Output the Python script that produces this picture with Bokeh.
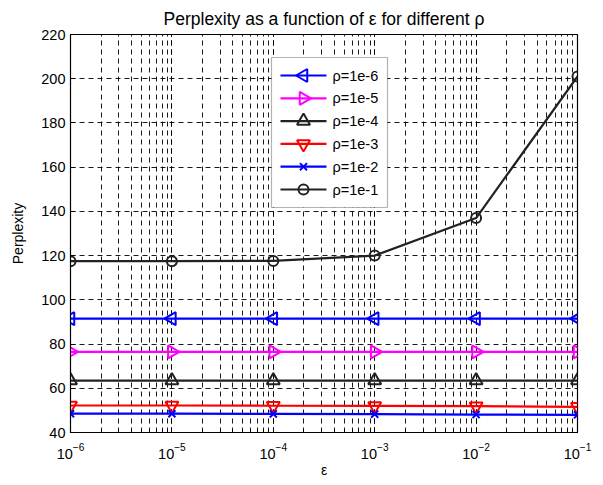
from bokeh.plotting import figure
from bokeh.models import Range1d, LogTicker, SingleIntervalTicker, BoxAnnotation, LinearScale
from bokeh.core.properties import value
from bokeh.embed import file_html
from bokeh.resources import INLINE
import math

# ---- data ----
eps = [1e-6, 1e-5, 1e-4, 1e-3, 1e-2, 1e-1]
rho_1e6 = [91.5, 91.5, 91.5, 91.5, 91.5, 91.5]
rho_1e5 = [76.5, 76.5, 76.5, 76.5, 76.5, 76.5]
rho_1e4 = [63.5, 63.5, 63.5, 63.5, 63.5, 63.5]
rho_1e3 = [52.2, 52.2, 52.1, 52.0, 51.9, 51.6]
rho_1e2 = [48.5, 48.5, 48.4, 48.3, 48.1, 48.0]
rho_1e1 = [117.5, 117.5, 117.6, 120.0, 137.0, 201.0]
labels = ["ρ=1e-6", "ρ=1e-5", "ρ=1e-4", "ρ=1e-3", "ρ=1e-2", "ρ=1e-1"]
title_text = "Perplexity as a function of ε for different ρ"

FONT = "Liberation Sans"
FW, FH = 507, 398

p = figure(x_axis_type="log",
           x_range=Range1d(1e-6, 1e-1), y_range=Range1d(40, 220),
           output_backend="svg", toolbar_location=None, title=title_text,
           min_border_left=70, min_border_right=18, min_border_bottom=0, min_border_top=0)
p.frame_width = FW
p.frame_height = FH
# pixel-like coordinate system of the plot frame, used for the legend box
p.extra_x_ranges = {"lx": Range1d(0, FW)}
p.extra_y_ranges = {"ly": Range1d(0, FH)}
p.extra_x_scales = {"lx": LinearScale()}
p.extra_y_scales = {"ly": LinearScale()}

p.title.align = "center"
p.title.text_font = FONT
p.title.text_font_size = "17.5px"
p.title.text_font_style = "normal"
p.title.text_color = "black"
p.title.text_line_height = 0.8
p.title.standoff = 12

p.background_fill_color = "white"
p.border_fill_color = "white"
p.outline_line_color = "black"
p.outline_line_width = 1.2
p.outline_line_alpha = 1

# axes
p.xaxis.ticker = LogTicker(num_minor_ticks=10)
p.yaxis.ticker = SingleIntervalTicker(interval=20, num_minor_ticks=0)
for ax in (p.xaxis[0], p.yaxis[0]):
    ax.major_label_text_font = FONT
    ax.major_label_text_font_size = "14.5px"
    ax.major_label_text_color = "black"
    ax.axis_line_color = "black"
    ax.major_tick_line_color = "black"
    ax.minor_tick_line_color = "black"
    ax.major_tick_in = 5
    ax.major_tick_out = 0
    ax.minor_tick_in = 3
    ax.minor_tick_out = 0
    ax.axis_label_text_font = FONT
    ax.axis_label_text_font_size = "14px"
    ax.axis_label_text_font_style = "normal"
    ax.axis_label_text_color = "black"
p.xaxis.axis_label = "ε"
p.yaxis.axis_label = "Perplexity"
p.xaxis.major_label_standoff = 10
p.xaxis.axis_label_standoff = 0
p.yaxis.axis_label_standoff = 12

# grid
for attr in ("grid_line", "minor_grid_line"):
    setattr(p.xgrid, attr + "_color", "black")
    setattr(p.xgrid, attr + "_dash", "5 4")
    setattr(p.xgrid, attr + "_alpha", 0.9)
p.ygrid.grid_line_color = "black"
p.ygrid.grid_line_dash = "5 4"
p.ygrid.grid_line_alpha = 0.9

series = [
    (rho_1e6, "#0000ff", "triangle", math.pi / 2, 13),
    (rho_1e5, "#ff00ff", "triangle", -math.pi / 2, 13),
    (rho_1e4, "#222222", "triangle", 0.0, 13),
    (rho_1e3, "#ff0000", "inverted_triangle", 0.0, 13),
    (rho_1e2, "#0000ff", "x", 0.0, 10),
    (rho_1e1, "#222222", "circle", 0.0, 10),
]
for ys, col, mk, ang, sz in series:
    p.line(eps, ys, line_color=col, line_width=2.2)
    p.scatter(eps, ys, marker=mk, size=sz, angle=ang,
              line_color=col, fill_color=None, line_width=2)

# ---- legend (drawn in frame pixel coordinates) ----
L_LEFT, L_TOP, L_W = 201, FH - 23, 116
ROW_H, PAD_TOP = 22.8, 18
n = len(labels)
L_BOTTOM = L_TOP - (2 * PAD_TOP + (n - 1) * ROW_H)
box = BoxAnnotation(left=L_LEFT, right=L_LEFT + L_W, top=L_TOP, bottom=L_BOTTOM,
                    x_range_name="lx", y_range_name="ly",
                    fill_color="white", fill_alpha=1, line_color="black", line_width=1.2)
p.add_layout(box)
for i, ((ys, col, mk, ang, sz), lab) in enumerate(zip(series, labels)):
    yc = L_TOP - PAD_TOP - i * ROW_H
    p.segment(x0=[L_LEFT + 9], y0=[yc], x1=[L_LEFT + 55], y1=[yc],
              line_color=col, line_width=2.2, x_range_name="lx", y_range_name="ly", level="overlay")
    p.scatter(x=[L_LEFT + 32], y=[yc], marker=mk, size=sz, angle=ang,
              line_color=col, fill_color=None, line_width=2,
              x_range_name="lx", y_range_name="ly", level="overlay")
    p.text(x=[L_LEFT + 61], y=[yc], text=[lab], text_font=value(FONT), text_font_size="14.5px",
           text_color="black", text_baseline="middle", text_align="left",
           x_range_name="lx", y_range_name="ly", level="overlay")

open("out.html", "w").write(file_html(p, INLINE))
